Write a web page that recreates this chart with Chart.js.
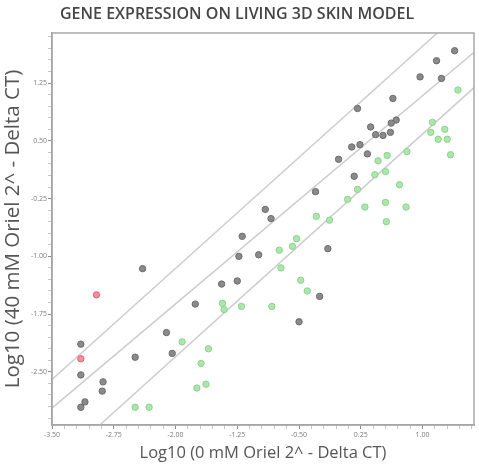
<!DOCTYPE html>
<html>
<head>
<meta charset="utf-8">
<script src="https://cdn.jsdelivr.net/npm/chart.js"></script>
<style>
  html, body { margin: 0; padding: 0; background: #fff; }
  #wrap { width: 479px; height: 470px; }
</style>
</head>
<body>
<div id="wrap"><canvas id="chart" width="479" height="470"></canvas></div>
<script>
// gene expression scatter: 0 mM vs 40 mM Oriel, log10 of 2^-dCT

const chartTitle = 'GENE EXPRESSION ON LIVING 3D SKIN MODEL';
const xTitle = 'Log10 (0 mM Oriel 2^ - Delta CT)';
const yTitle = 'Log10 (40 mM Oriel 2^ - Delta CT)';

// major tick labels
const xTicks = [-3.5, -2.75, -2.0, -1.25, -0.5, 0.25, 1.0];
const yTicks = [-2.5, -1.75, -1.0, -0.25, 0.5, 1.25];

// genes close to the diagonal (grey)
const grayX = [1.39, 1.17, 0.97, 1.23, 0.64, 0.21, 0.68, 0.62, 0.37, 0.43, 0.52, 0.61, 0.14, 0.24, 0.33,
               -0.02, 0.17, -0.30, -0.91, -0.84, -1.19, -1.23, -0.99, -0.15, -1.44, -1.25, -1.76, -2.40,
               -2.11, -2.04, -0.25, -0.50, -3.15, -2.49, -3.15, -2.88, -2.89, -3.10, -3.15];
const grayY = [1.67, 1.54, 1.33, 1.31, 1.05, 0.92, 0.77, 0.73, 0.68, 0.58, 0.57, 0.61, 0.42, 0.45, 0.33,
               0.26, 0.04, -0.16, -0.39, -0.51, -0.74, -1.00, -0.98, -0.90, -1.36, -1.32, -1.62, -1.16,
               -1.99, -2.26, -1.52, -1.85, -2.14, -2.31, -2.54, -2.63, -2.75, -2.89, -2.96];

// down-regulated genes (green)
const greenX = [1.43, 1.12, 1.27, 1.10, 1.19, 1.30, 0.81, 1.34, 0.57, 0.46, 0.42, 0.55, 0.72, 0.21, 0.09,
                0.55, 0.30, 0.80, -0.29, -0.13, 0.56, -0.53, -0.58, -0.74, -0.72, -0.48, -0.40, -0.83,
                -1.43, -1.41, -1.20, -1.92, -1.60, -1.69, -1.74, -1.63, -2.49, -2.32];
const greenY = [1.16, 0.74, 0.65, 0.61, 0.52, 0.52, 0.36, 0.32, 0.31, 0.24, 0.06, 0.10, -0.07, -0.13, -0.26,
                -0.30, -0.36, -0.36, -0.48, -0.53, -0.55, -0.77, -0.87, -0.92, -1.15, -1.31, -1.45, -1.65,
                -1.61, -1.69, -1.65, -2.11, -2.20, -2.39, -2.71, -2.66, -2.96, -2.96];

// up-regulated genes (red)
const redX = [-2.96, -3.15];
const redY = [-1.50, -2.33];

// reference lines (end points)
const upperLineX = [-3.5, 1.18];
const upperLineY = [-2.60, 1.90];
const middleLineX = [-3.5, 1.625];
const middleLineY = [-2.97, 1.65];
const lowerLineX = [-2.92, 1.625];
const lowerLineY = [-3.19, 1.19];

const xMin = -3.5, xMax = 1.625;
const yMin = -3.19, yMax = 1.90;

const toPoints = (xs, ys) => xs.map((x, i) => ({ x: x, y: ys[i] }));

// major ticks plus 4 minor ticks in between
function withMinor(major, min, max) {
    const step = (major[1] - major[0]) / 5;
    const out = [];
    const start = Math.ceil((min - major[0]) / step - 1e-9);
    const end = Math.floor((max - major[0]) / step + 1e-9);
    for (let i = start; i <= end; i++) out.push({ value: major[0] + i * step });
    return out;
}
function isMajor(major, v) {
    const step = major[1] - major[0];
    const k = (v - major[0]) / step;
    return Math.abs(k - Math.round(k)) < 1e-6;
}

const fontFam = '"Open Sans", sans-serif';

const framePlugin = {
    id: 'frame',
    afterDraw(chart) {
        const { ctx, chartArea: a } = chart;
        ctx.save();
        ctx.strokeStyle = '#a8a8a8';
        ctx.lineWidth = 1.5;
        ctx.strokeRect(a.left, a.top, a.right - a.left, a.bottom - a.top);
        ctx.fillStyle = '#454545';
        ctx.font = '600 16px ' + fontFam;
        ctx.textBaseline = 'middle';
        ctx.textAlign = 'left';
        ctx.fillText(chartTitle, 60, 14);
        ctx.restore();
    }
};

const lineStyle = {
    type: 'line',
    borderColor: '#cdcdcd',
    borderWidth: 1.5,
    pointRadius: 0,
    fill: false,
    order: 5
};

new Chart(document.getElementById('chart'), {
    type: 'scatter',
    data: {
        datasets: [
            { label: 'red', data: toPoints(redX, redY), backgroundColor: '#f0909c', borderColor: '#dc6678', borderWidth: 1, pointRadius: 3.2, order: 1 },
            { label: 'grey', data: toPoints(grayX, grayY), backgroundColor: '#8a8a8a', borderColor: '#6c6c6c', borderWidth: 1, pointRadius: 3.2, order: 2 },
            { label: 'green', data: toPoints(greenX, greenY), backgroundColor: '#ace6ac', borderColor: '#8bd48b', borderWidth: 1, pointRadius: 3.2, order: 3 },
            Object.assign({ label: 'upper', data: toPoints(upperLineX, upperLineY) }, lineStyle),
            Object.assign({ label: 'middle', data: toPoints(middleLineX, middleLineY) }, lineStyle),
            Object.assign({ label: 'lower', data: toPoints(lowerLineX, lowerLineY) }, lineStyle)
        ]
    },
    options: {
        responsive: false,
        animation: false,
        layout: { padding: { top: 33, right: 2, left: 0, bottom: 0 } },
        plugins: {
            legend: { display: false },
            tooltip: { enabled: false },
            title: { display: false }
        },
        scales: {
            x: {
                type: 'linear',
                min: xMin,
                max: xMax,
                afterBuildTicks: s => { s.ticks = withMinor(xTicks, xMin, xMax); },
                afterFit: s => { s.height = 45; },
                grid: {
                    drawOnChartArea: false,
                    drawTicks: true,
                    tickLength: 4,
                    tickColor: c => (c.tick && isMajor(xTicks, c.tick.value)) ? '#8a8a8a' : '#c4c4c4'
                },
                border: { display: true, color: '#a0a0a0', width: 1.5 },
                ticks: {
                    autoSkip: false,
                    maxRotation: 0,
                    padding: 2,
                    color: '#7a7a7a',
                    font: { size: 7, family: fontFam },
                    callback: v => isMajor(xTicks, v) ? v.toFixed(2) : ''
                },
                title: {
                    display: true,
                    text: xTitle,
                    color: '#555',
                    font: { size: 16.5, family: fontFam },
                    padding: { top: 0, bottom: 7 }
                }
            },
            y: {
                type: 'linear',
                min: yMin,
                max: yMax,
                afterBuildTicks: s => { s.ticks = withMinor(yTicks, yMin, yMax); },
                afterFit: s => { s.width = 52; },
                grid: {
                    drawOnChartArea: false,
                    drawTicks: true,
                    tickLength: 4,
                    tickColor: c => (c.tick && isMajor(yTicks, c.tick.value)) ? '#8a8a8a' : '#c4c4c4'
                },
                border: { display: true, color: '#a0a0a0', width: 1.5 },
                ticks: {
                    autoSkip: false,
                    padding: 1,
                    color: '#7a7a7a',
                    font: { size: 7, family: fontFam },
                    callback: v => isMajor(yTicks, v) ? v.toFixed(2) : ''
                },
                title: {
                    display: true,
                    text: yTitle,
                    color: '#555',
                    font: { size: 20.5, family: fontFam },
                    padding: { top: 1, bottom: 0 }
                }
            }
        }
    },
    plugins: [framePlugin]
});
</script>
</body>
</html>
